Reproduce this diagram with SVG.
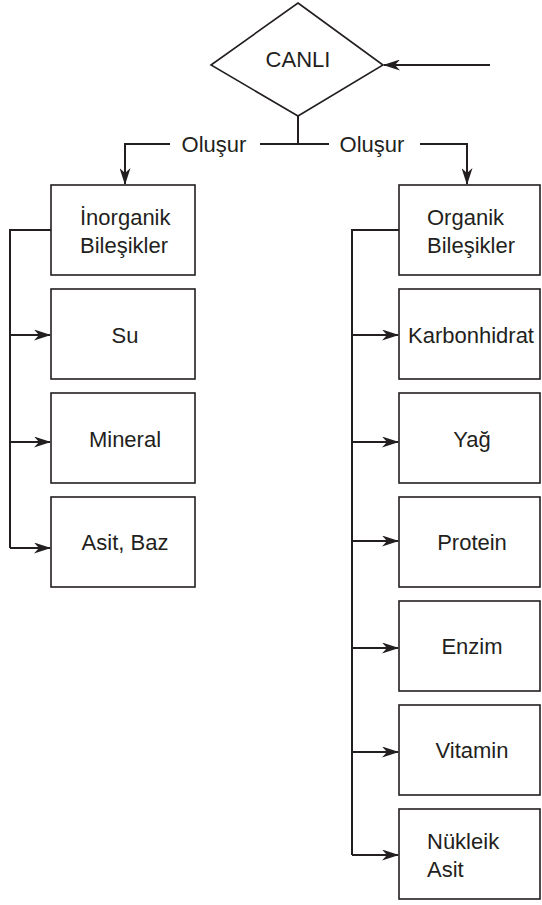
<svg xmlns="http://www.w3.org/2000/svg" width="542" height="905" viewBox="0 0 542 905">
<style>
text{font-family:"Liberation Sans",Arial,Helvetica,sans-serif;font-size:22px;fill:#231f20}
.box{fill:#fff;stroke:#231f20;stroke-width:1.6}
.c{fill:none;stroke:#231f20;stroke-width:2}
.m{text-anchor:middle}
</style>
<defs>
<marker id="ah" markerUnits="userSpaceOnUse" markerWidth="17" markerHeight="11" refX="16" refY="5.5" orient="auto" viewBox="0 0 17 11">
<path d="M0,0 L17,5.5 L0,11 L5,5.5 z" fill="#231f20"/>
</marker>
</defs>
<rect width="542" height="905" fill="#fff"/>
<g id="connectors">
<path class="c" d="M490,65 H384" marker-end="url(#ah)"/>
<path class="c" d="M298,116 V144 M260,144 H329"/>
<path class="c" d="M170,144 H125 V184" marker-end="url(#ah)"/>
<path class="c" d="M420,144 H467 V184" marker-end="url(#ah)"/>
<path class="c" d="M51,230 H10 V548"/>
<path class="c" d="M10,335 H50" marker-end="url(#ah)"/>
<path class="c" d="M10,442 H50" marker-end="url(#ah)"/>
<path class="c" d="M10,548 H50" marker-end="url(#ah)"/>
<path class="c" d="M399,230 H352 V855"/>
<path class="c" d="M352,335 H398" marker-end="url(#ah)"/>
<path class="c" d="M352,442 H398" marker-end="url(#ah)"/>
<path class="c" d="M352,541 H398" marker-end="url(#ah)"/>
<path class="c" d="M352,648 H398" marker-end="url(#ah)"/>
<path class="c" d="M352,752 H398" marker-end="url(#ah)"/>
<path class="c" d="M352,855 H398" marker-end="url(#ah)"/>
<text x="214" y="152" class="m">Oluşur</text>
<text x="372" y="152" class="m">Oluşur</text>
</g>
<g id="canli">
<polygon class="box" points="298,3 383,65 298,116 211,65"/>
<text x="298" y="67" class="m">CANLI</text>
</g>
<g id="inorganik">
<rect class="box" x="51" y="185" width="144" height="90"/>
<text x="80" y="225">İnorganik</text>
<text x="80" y="253">Bileşikler</text>
</g>
<g id="su">
<rect class="box" x="51" y="289" width="144" height="90"/>
<text x="125" y="343" class="m">Su</text>
</g>
<g id="mineral">
<rect class="box" x="51" y="393" width="144" height="90"/>
<text x="125" y="447" class="m">Mineral</text>
</g>
<g id="asitbaz">
<rect class="box" x="51" y="497" width="144" height="90"/>
<text x="125" y="550" class="m">Asit, Baz</text>
</g>
<g id="organik">
<rect class="box" x="399" y="185" width="141" height="90"/>
<text x="427" y="225">Organik</text>
<text x="427" y="253">Bileşikler</text>
</g>
<g id="karbonhidrat">
<rect class="box" x="399" y="289" width="141" height="90"/>
<text x="471" y="343" class="m">Karbonhidrat</text>
</g>
<g id="yag">
<rect class="box" x="399" y="393" width="141" height="90"/>
<text x="472" y="447" class="m">Yağ</text>
</g>
<g id="protein">
<rect class="box" x="399" y="497" width="141" height="90"/>
<text x="472" y="550" class="m">Protein</text>
</g>
<g id="enzim">
<rect class="box" x="399" y="601" width="141" height="90"/>
<text x="472" y="654" class="m">Enzim</text>
</g>
<g id="vitamin">
<rect class="box" x="399" y="705" width="141" height="90"/>
<text x="472" y="758" class="m">Vitamin</text>
</g>
<g id="nukleik">
<rect class="box" x="399" y="809" width="141" height="90"/>
<text x="427" y="849">Nükleik</text>
<text x="427" y="877">Asit</text>
</g>
</svg>
